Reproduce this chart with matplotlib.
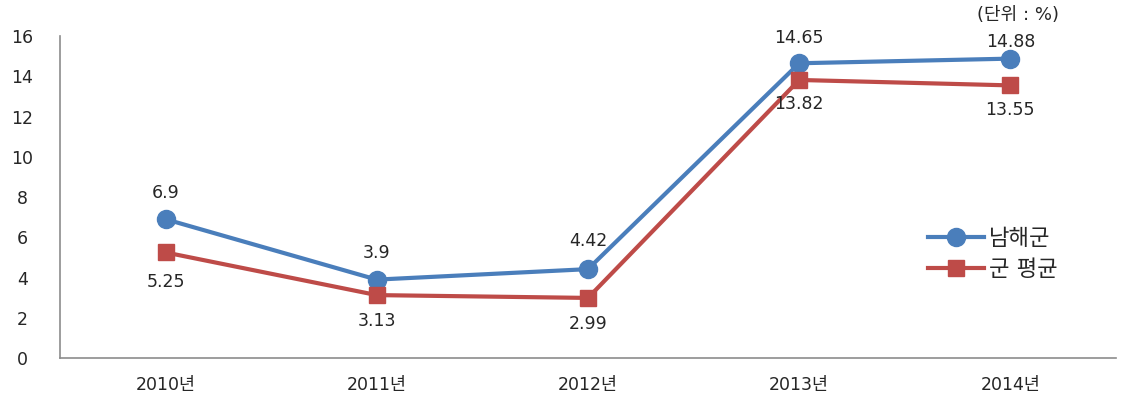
import numpy as np
import matplotlib
matplotlib.use('Agg')
import matplotlib.pyplot as plt

plt.rcParams['font.family'] = ['DejaVu Sans', 'Noto Sans CJK KR']

# donnees
annees = ['2010년', '2011년', '2012년', '2013년', '2014년']
namhae = [6.9, 3.9, 4.42, 14.65, 14.88]
moyenne = [5.25, 3.13, 2.99, 13.82, 13.55]
namhae_txt = ['6.9', '3.9', '4.42', '14.65', '14.88']
moyenne_txt = ['5.25', '3.13', '2.99', '13.82', '13.55']

bleu = '#4a7ebb'
rouge = '#be4b48'
texte = '#262626'

fig = plt.figure(figsize=(11.21, 4.01), dpi=100)
ax = fig.add_axes([0.0535, 0.107, 0.942, 0.803])

x = np.arange(len(annees))
ax.plot(x, namhae, color=bleu, lw=3, marker='o', ms=13, label='남해군', zorder=3)
ax.plot(x, moyenne, color=rouge, lw=3, marker='s', ms=11.5, label='군 평균', zorder=3)

# etiquettes (la derniere bleue est plus basse, collee au haut du graphe)
decal_bleu = [19, 19, 20, 18, 12]
decal_rouge = [21, 19, 19, 17, 18]
for i in range(len(x)):
    ax.annotate(namhae_txt[i], (x[i], namhae[i]), xytext=(0, decal_bleu[i]), textcoords='offset points',
                ha='center', va='center', fontsize=12.5, color=texte, annotation_clip=False)
    ax.annotate(moyenne_txt[i], (x[i], moyenne[i]), xytext=(0, -decal_rouge[i]), textcoords='offset points',
                ha='center', va='center', fontsize=12.5, color=texte, annotation_clip=False)

ax.set_xlim(-0.5, len(annees) - 0.5)
ax.set_ylim(0, 16)
ax.set_yticks(np.arange(0, 17, 2))
ax.set_xticks(x)
ax.set_xticklabels(annees)
ax.tick_params(axis='both', length=0, labelsize=12.5, colors=texte)
ax.tick_params(axis='y', pad=27)
ax.tick_params(axis='x', pad=13)
for lab in ax.get_yticklabels():
    lab.set_horizontalalignment('center')

for s in ['top', 'right']:
    ax.spines[s].set_visible(False)
for s in ['left', 'bottom']:
    ax.spines[s].set_color('#8c8c8c')
    ax.spines[s].set_linewidth(1.2)

ax.legend(loc='center left', bbox_to_anchor=(0.822, 0.323), frameon=False, fontsize=16,
          handlelength=2.5, labelspacing=0.45, handletextpad=0.25, borderpad=0, borderaxespad=0,
          labelcolor=texte)

fig.text(0.908, 0.963, '(단위 : %)', ha='center', va='center', fontsize=13, color=texte)

plt.savefig('out.png', dpi=100)
